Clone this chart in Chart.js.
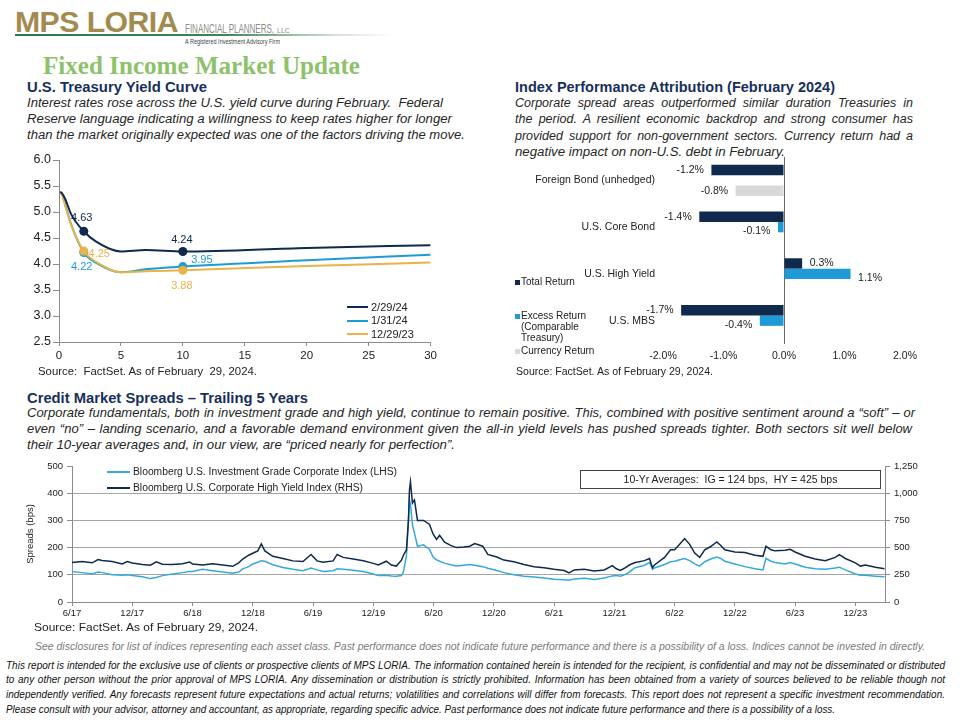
<!DOCTYPE html>
<html>
<head>
<meta charset="utf-8">
<script src="https://cdn.jsdelivr.net/npm/chart.js@4.4.1/dist/chart.umd.min.js"></script>
<style>
  html,body{margin:0;padding:0;background:#fff;}
  body{width:960px;height:720px;position:relative;overflow:hidden;font-family:'Liberation Sans',Arial,sans-serif;color:#222;}
  .a{position:absolute;white-space:nowrap;line-height:1;}
  [data-w]{display:inline-block;transform-origin:0 50%;}
  .h{font-weight:bold;font-size:14px;color:#17305a;}
  .p{font-style:italic;font-size:12.5px;color:#262626;}
  .n{font-family:'Liberation Sans Narrow','Arial Narrow','Liberation Sans',Arial,sans-serif;}
  .src{font-size:10.5px;color:#222;}
  .leg{font-size:10px;color:#222;}
  canvas{position:absolute;}
  .ln{position:absolute;}
</style>
</head>
<body>
<!-- Logo -->
<div class="a" data-w="163" style="left:15px;top:8px;font-weight:bold;font-size:29px;color:#a38b4f;letter-spacing:-0.5px;">MPS LORIA</div>
<div class="a" style="left:15px;top:34px;width:380px;height:2px;background:linear-gradient(to right,#2d7848 0%,#3a8753 55%,rgba(190,205,195,0.6) 85%,rgba(255,255,255,0) 100%);"></div>
<div class="a n" data-w="89" style="left:185px;top:22px;font-size:13px;color:#8c8c8c;">FINANCIAL PLANNERS,</div>
<div class="a n" style="left:277px;top:27px;font-size:7px;color:#8c8c8c;">LLC</div>
<div class="a n" data-w="95" style="left:185px;top:38.5px;font-size:6.5px;color:#444;">A Registered Investment Advisory Firm</div>

<!-- Title -->
<div class="a" data-w="317" style="left:43px;top:52.5px;font-family:'Liberation Serif','Times New Roman',serif;font-weight:bold;font-size:25px;color:#8dc26a;">Fixed Income Market Update</div>

<!-- Left section -->
<div class="a h" data-w="180" style="left:27px;top:79.8px;">U.S. Treasury Yield Curve</div>
<div class="a p" data-w="416" style="left:27px;top:97.2px;">Interest rates rose across the U.S. yield curve during February.&nbsp; Federal</div>
<div class="a p" data-w="425" style="left:27px;top:113.2px;">Reserve language indicating a willingness to keep rates higher for longer</div>
<div class="a p" data-w="438" style="left:27px;top:129.2px;">than the market originally expected was one of the factors driving the move.</div>

<!-- Right section -->
<div class="a h" data-w="320" style="left:515px;top:79.8px;">Index Performance Attribution (February 2024)</div>
<div class="a p just" data-w="398" style="left:515px;top:96.7px;">Corporate spread areas outperformed similar duration Treasuries in</div>
<div class="a p just" data-w="398" style="left:515px;top:113.2px;">the period. A resilient economic backdrop and strong consumer has</div>
<div class="a p just" data-w="398" style="left:515px;top:129.7px;">provided support for non-government sectors. Currency return had a</div>
<div class="a p" data-w="270" style="left:515px;top:146.2px;">negative impact on non-U.S. debt in February.</div>

<!-- Charts -->
<canvas id="cYield" width="420" height="216" style="left:20px;top:150px;"></canvas>
<canvas id="cAttr" width="420" height="220" style="left:505px;top:150px;"></canvas>

<!-- Yield legend -->
<div class="ln" style="left:347px;top:306px;width:21px;height:2px;background:#0f2a4d;"></div>
<div class="ln" style="left:347px;top:319.5px;width:21px;height:2px;background:#1e9ad6;"></div>
<div class="ln" style="left:347px;top:333px;width:21px;height:2px;background:#e8b348;"></div>
<div class="a" style="left:371px;top:301.5px;font-size:11px;">2/29/24</div>
<div class="a" style="left:371px;top:315px;font-size:11px;">1/31/24</div>
<div class="a" style="left:371px;top:328.5px;font-size:11px;">12/29/23</div>

<!-- Attribution legend -->
<div class="a" style="left:515px;top:280px;width:5px;height:5px;background:#0f2a4d;"></div>
<div class="a leg" style="left:521px;top:277px;">Total Return</div>
<div class="a" style="left:515px;top:314px;width:5px;height:5px;background:#1e9ad6;"></div>
<div class="a leg" style="left:521px;top:311px;">Excess Return</div>
<div class="a leg" style="left:521px;top:322px;">(Comparable</div>
<div class="a leg" style="left:521px;top:333px;">Treasury)</div>
<div class="a" style="left:515px;top:349px;width:5px;height:5px;background:#d9d9d9;"></div>
<div class="a leg" style="left:521px;top:346px;">Currency Return</div>

<div class="a src" data-w="219" style="left:38px;top:365.5px;">Source:&nbsp; FactSet. As of February&nbsp; 29, 2024.</div>
<div class="a src" data-w="197" style="left:516px;top:367px;font-size:10px;">Source: FactSet. As of February 29, 2024.</div>

<!-- Credit section -->
<div class="a n" data-w="281" style="left:27px;top:389.6px;font-weight:bold;font-size:15px;color:#17305a;">Credit Market Spreads – Trailing 5 Years</div>
<div class="a n p just" data-w="888" style="left:27px;top:406.4px;font-size:13px;">Corporate fundamentals, both in investment grade and high yield, continue to remain positive. This, combined with positive sentiment around a “soft” – or</div>
<div class="a n p just" data-w="885" style="left:27px;top:422.4px;font-size:13px;">even “no” – landing scenario, and a favorable demand environment given the all-in yield levels has pushed spreads tighter. Both sectors sit well below</div>
<div class="a n p" data-w="428" style="left:27px;top:438.4px;font-size:13px;">their 10-year averages and, in our view, are “priced nearly for perfection”.</div>

<canvas id="cSpread" width="920" height="170" style="left:20px;top:455px;"></canvas>

<!-- Spread legend -->
<div class="ln" style="left:107px;top:470.5px;width:23px;height:2px;background:#35a8de;"></div>
<div class="ln" style="left:107px;top:487px;width:23px;height:2px;background:#0f2a4d;"></div>
<div class="a leg" data-w="264" style="left:133px;top:466.5px;">Bloomberg U.S. Investment Grade Corporate Index (LHS)</div>
<div class="a leg" data-w="230" style="left:133px;top:483px;">Bloomberg U.S. Corporate High Yield Index (RHS)</div>
<div class="a" style="left:580px;top:469.5px;width:301px;height:19px;border:1px solid #444;box-sizing:border-box;text-align:center;font-size:10.5px;line-height:17px;">10-Yr Averages:&nbsp; IG = 124 bps,&nbsp; HY = 425 bps</div>

<div class="a src" data-w="224" style="left:34px;top:621.5px;">Source: FactSet. As of February 29, 2024.</div>

<!-- Disclosures -->
<div class="a n just" data-w="890" style="left:35px;top:641px;font-style:italic;font-size:11px;color:#7a7a7a;">See disclosures for list of indices representing each asset class. Past performance does not indicate future performance and there is a possibility of a loss. Indices cannot be invested in directly.</div>
<div class="a n just" data-w="939" style="left:6px;top:660.5px;font-style:italic;font-size:10px;color:#111;">This report is intended for the exclusive use of clients or prospective clients of MPS LORIA. The information contained herein is intended for the recipient, is confidential and may not be disseminated or distributed</div>
<div class="a n just" data-w="939" style="left:6px;top:675.2px;font-style:italic;font-size:10px;color:#111;">to any other person without the prior approval of MPS LORIA. Any dissemination or distribution is strictly prohibited. Information has been obtained from a variety of sources believed to be reliable though not</div>
<div class="a n just" data-w="939" style="left:6px;top:689.9px;font-style:italic;font-size:10px;color:#111;">independently verified. Any forecasts represent future expectations and actual returns; volatilities and correlations will differ from forecasts. This report does not represent a specific investment recommendation.</div>
<div class="a n" data-w="829" style="left:6px;top:704.6px;font-style:italic;font-size:10px;color:#111;">Please consult with your advisor, attorney and accountant, as appropriate, regarding specific advice. Past performance does not indicate future performance and there is a possibility of a loss.</div>

<script>
// ---------------- DATA ----------------
const yieldMaturities = [0.083, 0.25, 0.5, 1, 2, 3, 5, 7, 10, 20, 30];
const yieldFeb24 = [5.39, 5.36, 5.25, 4.95, 4.63, 4.43, 4.24, 4.27, 4.24, 4.31, 4.36];
const yieldJan24 = [5.37, 5.33, 5.15, 4.75, 4.22, 4.02, 3.84, 3.90, 3.95, 4.07, 4.18];
const yieldDec23 = [5.37, 5.32, 5.12, 4.74, 4.25, 4.04, 3.84, 3.86, 3.88, 3.96, 4.03];
const yieldSeriesNames = ['2/29/24', '1/31/24', '12/29/23'];
const yieldLabeledMaturities = [2, 10];
const yieldXTicks = [0, 5, 10, 15, 20, 25, 30];
const yieldYTicks = [2.5, 3.0, 3.5, 4.0, 4.5, 5.0, 5.5, 6.0];

const attribCategories = ['Foreign Bond (unhedged)', 'U.S. Core Bond', 'U.S. High Yield', 'U.S. MBS'];
const totalReturn = [-1.2, -1.4, 0.3, -1.7];
const excessReturn = [null, -0.1, 1.1, -0.4];
const currencyReturn = [-0.8, null, null, null];
const attribSeriesNames = ['Total Return', 'Excess Return (Comparable Treasury)', 'Currency Return'];
const attribTicks = [-2, -1, 0, 1, 2];

const spreadTickMonths = [0, 6, 12, 18, 24, 30, 36, 42, 48, 54, 60, 66, 72, 78];
const spreadTickLabels = ['6/17','12/17','6/18','12/18','6/19','12/19','6/20','12/20','6/21','12/21','6/22','12/22','6/23','12/23'];
const spreadMonths = [0,1,2,2.6,3,4,5,5.5,6,7,7.8,8.4,9,10,11,11.7,12,13,14,15,16,16.6,17,17.6,18,18.5,18.85,19.2,20,21,22,23,23.8,24.4,25,26,26.4,27,28,29,30,30.5,31.3,31.8,32.3,32.8,33,33.3,33.5,33.6,33.7,33.9,34.1,34.4,35,35.6,35.95,36.3,36.6,37.1,37.7,38.3,39,39.6,40.1,40.9,41.4,42.3,43,44,45,46,47,48,49,49.5,50,51,52,53,53.8,54.2,54.6,55,55.5,56,57,57.5,57.8,58,59,59.6,60,60.5,61,61.5,62,62.5,63,63.6,64.2,64.6,65,66,67,68,68.8,69.1,69.6,70,71,71.5,72,73,74,75,76,76.4,77,78,78.5,79,80,80.9];
const igSpread = [112,108,103,110,108,100,98,100,97,93,86,90,97,103,108,112,112,120,115,110,106,110,122,130,140,146,152,150,137,127,120,115,125,118,112,115,122,120,117,112,103,97,98,96,95,97,110,170,300,375,360,283,253,205,210,193,165,155,150,143,137,132,135,138,135,130,124,116,108,100,95,92,88,84,82,80,85,87,83,88,96,97,95,100,110,125,135,145,120,125,138,148,150,155,160,152,140,132,148,158,165,160,150,140,130,122,118,160,150,145,140,145,140,128,122,120,125,128,118,103,98,98,95,93];
const hySpread = [363,372,360,390,382,372,350,372,358,345,338,370,348,345,352,368,350,340,352,340,328,360,395,430,448,470,533,470,420,400,378,372,437,378,365,378,437,410,395,380,355,340,375,340,330,385,430,478,750,1030,1105,910,938,750,750,713,625,575,613,550,520,500,505,513,537,513,438,413,385,370,345,325,315,300,290,268,295,300,285,295,335,305,290,310,340,360,380,400,315,340,410,480,480,530,583,530,450,410,480,510,552,520,480,460,455,430,420,512,480,470,475,485,460,420,395,380,410,435,400,360,330,340,320,305];
const spreadSeriesNames = ['Bloomberg U.S. Investment Grade Corporate Index (LHS)', 'Bloomberg U.S. Corporate High Yield Index (RHS)'];

// ---------------- STYLE ----------------
const NAVY = '#0f2a4d', BLUE = '#1e9ad6', LBLUE = '#35a8de', GOLD = '#e8b348', LGRAY = '#d9d9d9', AXIS = '#8c8c8c';
const FONT = "'Liberation Sans', Arial, sans-serif";
Chart.defaults.font.family = FONT;
Chart.defaults.color = '#222';
Chart.defaults.animation = false;

// ---------------- TEXT FITTING ----------------
function fitAll() {
  document.querySelectorAll('[data-w]').forEach(el => {
    el.style.transform = ''; el.style.wordSpacing = '';
    const target = parseFloat(el.dataset.w);
    const w = el.getBoundingClientRect().width;
    if (!w) return;
    if (el.classList.contains('just')) {
      const n = (el.textContent.match(/ /g) || []).length;
      const d = target - w;
      if (d > 0 && n > 0) { el.style.wordSpacing = (d / n) + 'px'; return; }
    }
    el.style.transform = 'scaleX(' + (target / w) + ')';
  });
}
fitAll();
if (document.fonts && document.fonts.ready) document.fonts.ready.then(fitAll);

// ---------------- YIELD CURVE ----------------
const yieldSeries = [yieldFeb24, yieldJan24, yieldDec23];
const yieldColors = [NAVY, BLUE, GOLD];
const yieldOrder = [0, 2, 1];
const yieldLabelOffsets = [[[-2, -13.5], [-1, -12]], [[-2, 14.5], [19, -6.5]], [[15.5, 3], [-1, 16]]];

const yieldLabelPlugin = {
  id: 'yieldLabels',
  afterDatasetsDraw(chart) {
    const ctx = chart.ctx;
    ctx.save();
    ctx.font = '11px ' + FONT;
    ctx.textAlign = 'center';
    ctx.textBaseline = 'middle';
    chart.data.datasets.forEach((ds, di) => {
      const meta = chart.getDatasetMeta(di);
      yieldLabeledMaturities.forEach((m, k) => {
        const i = yieldMaturities.indexOf(m);
        const pt = meta.data[i];
        const off = yieldLabelOffsets[di][k];
        ctx.fillStyle = yieldColors[di];
        ctx.fillText(ds.data[i].y.toFixed(2), pt.x + off[0], pt.y + off[1]);
      });
    });
    ctx.restore();
  }
};

new Chart(document.getElementById('cYield'), {
  type: 'line',
  data: {
    datasets: yieldSeries.map((s, di) => ({
      label: yieldSeriesNames[di],
      data: yieldMaturities.map((m, i) => ({ x: m, y: s[i] })),
      borderColor: yieldColors[di],
      backgroundColor: yieldColors[di],
      borderWidth: 2,
      cubicInterpolationMode: 'monotone',
      pointRadius: yieldMaturities.map(m => yieldLabeledMaturities.includes(m) ? 4.5 : 0),
      pointBorderWidth: 0,
      order: yieldOrder[di]
    }))
  },
  options: {
    responsive: false,
    layout: { padding: { top: 10, right: 8, left: 0, bottom: 0 } },
    plugins: { legend: { display: false }, tooltip: { enabled: false } },
    scales: {
      x: {
        type: 'linear', min: 0, max: 30,
        afterBuildTicks: s => { s.ticks = yieldXTicks.map(v => ({ value: v })); },
        ticks: { font: { size: 11.5 }, padding: 3, color: '#222', maxRotation: 0 },
        grid: { drawOnChartArea: false, tickLength: 4, color: AXIS },
        border: { color: AXIS },
        afterFit: s => { s.height = 24; }
      },
      y: {
        min: 2.5, max: 6,
        afterBuildTicks: s => { s.ticks = yieldYTicks.map(v => ({ value: v })); },
        ticks: { font: { size: 12.5 }, padding: 2, color: '#222', callback: v => Number(v).toFixed(1) },
        grid: { drawOnChartArea: false, tickLength: 6, color: AXIS },
        border: { color: AXIS },
        afterFit: s => { s.width = 39; }
      }
    }
  },
  plugins: [yieldLabelPlugin]
});

// ---------------- ATTRIBUTION BARS ----------------
const attribColors = [NAVY, BLUE, LGRAY];
const barLabelPlugin = {
  id: 'barLabels',
  afterDatasetsDraw(chart) {
    const ctx = chart.ctx;
    ctx.save();
    ctx.font = '10.5px ' + FONT;
    ctx.fillStyle = '#222';
    ctx.textBaseline = 'middle';
    chart.data.datasets.forEach((ds, di) => {
      chart.getDatasetMeta(di).data.forEach((el, i) => {
        const v = ds.data[i];
        if (v === null || v === undefined) return;
        ctx.textAlign = v < 0 ? 'right' : 'left';
        ctx.fillText(v.toFixed(1) + '%', el.x + (v < 0 ? -7.5 : 7.5), el.y + (di === 1 ? 4 : 0));
      });
    });
    ctx.restore();
  }
};

new Chart(document.getElementById('cAttr'), {
  type: 'bar',
  data: {
    labels: attribCategories,
    datasets: [totalReturn, excessReturn, currencyReturn].map((d, di) => ({
      label: attribSeriesNames[di],
      data: d,
      backgroundColor: attribColors[di],
      borderWidth: 0,
      barPercentage: 1.0,
      categoryPercentage: 0.668
    }))
  },
  options: {
    indexAxis: 'y',
    responsive: false,
    layout: { padding: { top: 7, right: 20, left: 0, bottom: 0 } },
    plugins: { legend: { display: false }, tooltip: { enabled: false } },
    scales: {
      x: {
        min: -2, max: 2,
        afterBuildTicks: s => { s.ticks = attribTicks.map(v => ({ value: v })); },
        ticks: { font: { size: 10.5 }, padding: 6, color: '#222', callback: v => Number(v).toFixed(1) + '%' },
        grid: { color: c => (c.tick && c.tick.value === 0) ? '#666' : 'rgba(0,0,0,0)', drawTicks: false, lineWidth: 1 },
        border: { display: false },
        afterFit: s => { s.height = 26; }
      },
      y: {
        grid: { display: false, drawTicks: true, tickLength: 8 },
        border: { display: false },
        ticks: { padding: 0, color: '#222', font: { size: 10.5 } },
        afterFit: s => { s.width = 158; }
      }
    }
  },
  plugins: [barLabelPlugin]
});

// ---------------- CREDIT SPREADS ----------------
new Chart(document.getElementById('cSpread'), {
  type: 'line',
  data: {
    datasets: [
      {
        label: spreadSeriesNames[0],
        data: spreadMonths.map((m, i) => ({ x: m, y: igSpread[i] })),
        yAxisID: 'y', borderColor: LBLUE, borderWidth: 1.5, pointRadius: 0, tension: 0, order: 1
      },
      {
        label: spreadSeriesNames[1],
        data: spreadMonths.map((m, i) => ({ x: m, y: hySpread[i] })),
        yAxisID: 'y2', borderColor: NAVY, borderWidth: 1.5, pointRadius: 0, tension: 0, order: 0
      }
    ]
  },
  options: {
    responsive: false,
    layout: { padding: { top: 11, right: 0, left: 0, bottom: 0 } },
    plugins: { legend: { display: false }, tooltip: { enabled: false } },
    scales: {
      x: {
        type: 'linear', min: 0, max: 80.95,
        afterBuildTicks: s => { s.ticks = spreadTickMonths.map(v => ({ value: v })); },
        ticks: { autoSkip: false, maxRotation: 0, font: { size: 9.5 }, padding: 2, color: '#222',
                 callback: v => spreadTickLabels[spreadTickMonths.indexOf(v)] || '' },
        grid: { drawOnChartArea: false, tickLength: 4, color: AXIS },
        border: { color: AXIS },
        afterFit: s => { s.height = 23; }
      },
      y: {
        position: 'left', min: 0, max: 500,
        ticks: { stepSize: 100, font: { size: 9.5 }, padding: 4, color: '#222' },
        grid: { color: c => (c.tick && (c.tick.value === 0 || c.tick.value === 500)) ? 'rgba(0,0,0,0)' : '#a6a6a6', tickColor: AXIS, tickLength: 5 },
        border: { color: AXIS },
        title: { display: true, text: 'Spreads (bps)', font: { size: 9.5 }, color: '#222', padding: { top: 5, bottom: 0 } },
        afterFit: s => { s.width = 52; }
      },
      y2: {
        position: 'right', min: 0, max: 1250,
        ticks: { stepSize: 250, font: { size: 9.5 }, padding: 4, color: '#222', callback: v => Number(v).toLocaleString('en-US') },
        grid: { drawOnChartArea: false, tickLength: 5, color: AXIS },
        border: { color: AXIS },
        afterFit: s => { s.width = 55; }
      }
    }
  }
});
</script>
</body>
</html>
